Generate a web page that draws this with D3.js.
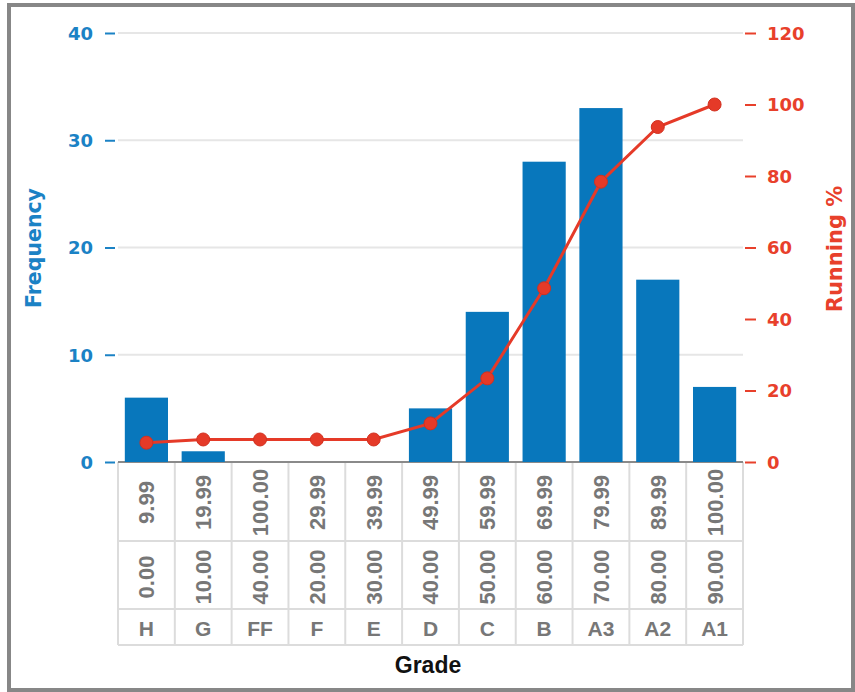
<!DOCTYPE html>
<html>
<head>
<meta charset="utf-8">
<script src="https://cdn.jsdelivr.net/npm/d3@7"></script>
<style>
  html, body { margin: 0; padding: 0; background: #fff; }
  svg { display: block; }
  text { font-family: "DejaVu Sans", Verdana, sans-serif; font-weight: bold; }
  text.arial { font-family: "Liberation Sans", Arial, sans-serif; }
</style>
</head>
<body>
<svg id="chart" width="855" height="692"></svg>
<script>
// ---- data ----
const grades = ["H", "G", "FF", "F", "E", "D", "C", "B", "A3", "A2", "A1"];
const lowerBounds = ["0.00", "10.00", "40.00", "20.00", "30.00", "40.00", "50.00", "60.00", "70.00", "80.00", "90.00"];
const upperBounds = ["9.99", "19.99", "100.00", "29.99", "39.99", "49.99", "59.99", "69.99", "79.99", "89.99", "100.00"];
const frequency = [6, 1, 0, 0, 0, 5, 14, 28, 33, 17, 7];
const runningPct = [5.4, 6.3, 6.3, 6.3, 6.3, 10.8, 23.4, 48.6, 78.4, 93.7, 100];
const leftTicks = [0, 10, 20, 30, 40];
const rightTicks = [0, 20, 40, 60, 80, 100, 120];
const xTitle = "Grade";
const yLeftTitle = "Frequency";
const yRightTitle = "Running %";

// ---- styles ----
const barColor = "#0877bc";
const blueText = "#1b82c5";
const red = "#e53a28";
const redText = "#e8402b";
const gray = "#777777";
const tableLine = "#dcdcdc";

const svg = d3.select("#chart");

// outer frame
svg.append("rect").attr("x", 9).attr("y", 5).attr("width", 844).attr("height", 685)
  .attr("fill", "#fff").attr("stroke", "#878787").attr("stroke-width", 4);

const pLeft = 118, pRight = 743, pTop = 33, pBottom = 462;

const x = d3.scaleBand().domain(grades).range([pLeft, pRight]).paddingInner(0.24).paddingOuter(0.12);
const yL = d3.scaleLinear().domain([0, 40]).range([pBottom, pTop]);
const yR = d3.scaleLinear().domain([0, 120]).range([pBottom, pTop]);

// gridlines
svg.append("g").selectAll("line").data(leftTicks.filter(d => d > 0)).join("line")
  .attr("x1", pLeft).attr("x2", pRight)
  .attr("y1", d => yL(d)).attr("y2", d => yL(d))
  .attr("stroke", "#e6e6e6").attr("stroke-width", 2);

// table
const step = x.step();
const row1 = 541, row2 = 609, row3 = 645;
const tbl = svg.append("g");
[row1, row2, row3].forEach(yy => {
  tbl.append("line").attr("x1", pLeft).attr("x2", pRight).attr("y1", yy).attr("y2", yy)
    .attr("stroke", tableLine).attr("stroke-width", 2);
});
const bounds = d3.range(grades.length + 1).map(i => pLeft + i * step);
tbl.selectAll("line.v").data(bounds).join("line").attr("class", "v")
  .attr("x1", d => d).attr("x2", d => d).attr("y1", pBottom).attr("y2", row3)
  .attr("stroke", tableLine).attr("stroke-width", 2);

const cx = g => x(g) + x.bandwidth() / 2;
tbl.selectAll("text.u").data(grades).join("text").attr("class", "u arial")
  .attr("transform", (g) => `translate(${cx(g)},${(pBottom + row1) / 2 + 1}) rotate(-90)`)
  .attr("text-anchor", "middle").attr("dy", "0.36em")
  .attr("font-size", 22).attr("fill", gray)
  .text((g, i) => upperBounds[i]);
tbl.selectAll("text.l").data(grades).join("text").attr("class", "l arial")
  .attr("transform", (g) => `translate(${cx(g)},${(row1 + row2) / 2 + 2}) rotate(-90)`)
  .attr("text-anchor", "middle").attr("dy", "0.36em")
  .attr("font-size", 22).attr("fill", gray)
  .text((g, i) => lowerBounds[i]);
tbl.selectAll("text.g").data(grades).join("text").attr("class", "g arial")
  .attr("x", g => cx(g)).attr("y", (row2 + row3) / 2 + 1).attr("dy", "0.36em")
  .attr("text-anchor", "middle").attr("font-size", 21).attr("fill", gray)
  .text(g => g);

// x baseline
svg.append("line").attr("x1", pLeft).attr("x2", pRight).attr("y1", pBottom).attr("y2", pBottom)
  .attr("stroke", "#8a8a8a").attr("stroke-width", 2);

// bars
svg.append("g").selectAll("rect").data(grades).join("rect")
  .attr("x", g => x(g)).attr("width", x.bandwidth())
  .attr("y", (g, i) => yL(frequency[i]))
  .attr("height", (g, i) => pBottom - yL(frequency[i]))
  .attr("fill", barColor);

// line
const line = d3.line().x(d => cx(d.g)).y(d => yR(d.v));
const pts = grades.map((g, i) => ({ g, v: runningPct[i] }));
svg.append("path").datum(pts).attr("d", line)
  .attr("fill", "none").attr("stroke", red).attr("stroke-width", 3);
svg.append("g").selectAll("circle").data(pts).join("circle")
  .attr("cx", d => cx(d.g)).attr("cy", d => yR(d.v)).attr("r", 6.5)
  .attr("fill", red).attr("stroke", "#d2301f").attr("stroke-width", 1);

// left axis
const axL = svg.append("g").attr("transform", "translate(115,0)")
  .call(d3.axisLeft(yL).tickValues(leftTicks).tickSize(10).tickPadding(12));
axL.select(".domain").remove();
axL.selectAll("line").attr("stroke", blueText).attr("stroke-width", 2);
axL.selectAll("text").attr("fill", blueText).attr("font-size", 18)
  .attr("font-family", "DejaVu Sans").attr("font-weight", "bold").attr("dy", "0.36em");

// right axis
const axR = svg.append("g").attr("transform", "translate(745,0)")
  .call(d3.axisRight(yR).tickValues(rightTicks).tickSize(11).tickPadding(11));
axR.select(".domain").remove();
axR.selectAll("line").attr("stroke", redText).attr("stroke-width", 2);
axR.selectAll("text").attr("fill", redText).attr("font-size", 18)
  .attr("font-family", "DejaVu Sans").attr("font-weight", "bold").attr("dy", "0.36em");

// titles
svg.append("text").attr("transform", `translate(41,248) rotate(-90)`)
  .attr("text-anchor", "middle").attr("font-size", 20.5).attr("fill", blueText).text(yLeftTitle);
svg.append("text").attr("transform", `translate(842,249) rotate(-90)`)
  .attr("text-anchor", "middle").attr("font-size", 21).attr("fill", redText).text(yRightTitle);
svg.append("text").attr("class", "arial").attr("x", 428).attr("y", 673)
  .attr("text-anchor", "middle").attr("font-size", 23).attr("fill", "#111").text(xTitle);
</script>
</body>
</html>
